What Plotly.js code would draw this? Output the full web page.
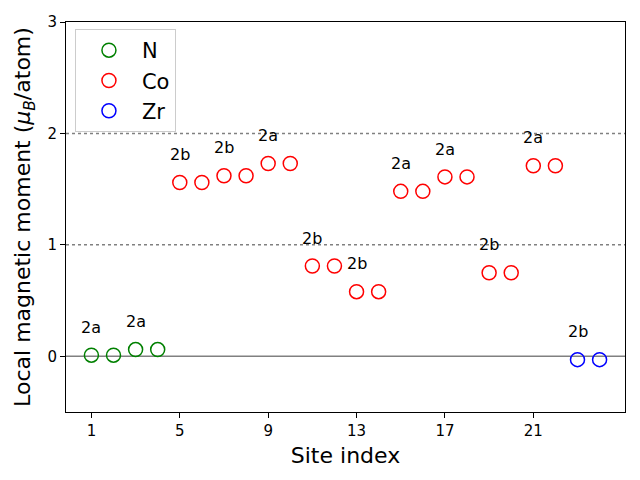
<!DOCTYPE html>
<html>
<head>
<meta charset="utf-8">
<script src="https://cdn.plot.ly/plotly-3.0.1.min.js"></script>
<style>html,body{margin:0;padding:0;background:#fff;}#chart{width:640px;height:480px;}</style>
</head>
<body>
<div id="chart"></div>
<script>
const nSites = [1, 2, 3, 4];
const nValues = [0.01, 0.01, 0.06, 0.06];
const coSites = [5, 6, 7, 8, 9, 10, 11, 12, 13, 14, 15, 16, 17, 18, 19, 20, 21, 22];
const coValues = [1.56, 1.56, 1.62, 1.62, 1.73, 1.73, 0.81, 0.81, 0.58, 0.58, 1.48, 1.48, 1.61, 1.61, 0.75, 0.75, 1.71, 1.71];
const zrSites = [23, 24];
const zrValues = [-0.03, -0.03];
const labelSites = [1, 3, 5, 7, 9, 11, 13, 15, 17, 19, 21, 23];
const labelTexts = ["2a", "2a", "2b", "2b", "2a", "2b", "2b", "2a", "2a", "2b", "2a", "2b"];
const tickVals = [1, 5, 9, 13, 17, 21];

const allSites = nSites.concat(coSites, zrSites);
const allValues = nValues.concat(coValues, zrValues);
const labelOffset = 0.25;

function tr(x, y, name, color) {
  return {
    x: x, y: y, name: name, type: 'scatter', mode: 'markers',
    marker: {symbol: 'circle-open', size: 14, color: color, line: {width: 1.5, color: color}},
    cliponaxis: false
  };
}

const data = [
  tr(nSites, nValues, 'N', 'green'),
  tr(coSites, coValues, 'Co', 'red'),
  tr(zrSites, zrValues, 'Zr', 'blue')
];

const annotations = labelSites.map((s, i) => ({
  x: s, y: allValues[allSites.indexOf(s)] + labelOffset,
  xref: 'x', yref: 'y', text: labelTexts[i], showarrow: false,
  font: {family: 'DejaVu Sans', size: 16, color: 'black'},
  xanchor: 'center', yanchor: 'middle'
}));

const shapes = [
  {type: 'line', xref: 'paper', x0: 0, x1: 1, yref: 'y', y0: 0, y1: 0, line: {color: 'gray', width: 1.5}, layer: 'below'},
  {type: 'line', xref: 'paper', x0: 0, x1: 1, yref: 'y', y0: 1, y1: 1, line: {color: 'gray', width: 1.5, dash: 'dot'}, layer: 'below'},
  {type: 'line', xref: 'paper', x0: 0, x1: 1, yref: 'y', y0: 2, y1: 2, line: {color: 'gray', width: 1.5, dash: 'dot'}, layer: 'below'}
];

const layout = {
  width: 640, height: 480,
  margin: {l: 66, r: 15, t: 22, b: 68},
  paper_bgcolor: 'white', plot_bgcolor: 'white',
  font: {family: 'DejaVu Sans', color: 'black'},
  showlegend: true,
  legend: {
    x: 0.016, y: 0.982, xanchor: 'left', yanchor: 'top',
    bgcolor: 'rgba(255,255,255,0.8)', bordercolor: '#cccccc', borderwidth: 1,
    font: {family: 'DejaVu Sans', size: 21, color: 'black'},
    itemwidth: 56, tracegroupgap: 0
  },
  xaxis: {
    range: [-0.15, 25.15], tickvals: tickVals, ticktext: tickVals.map(String),
    showgrid: false, zeroline: false, showline: true, mirror: true, linecolor: 'black', linewidth: 1,
    ticks: 'outside', ticklen: 5, tickcolor: 'black',
    tickfont: {family: 'DejaVu Sans', size: 15},
    title: {text: 'Site index', font: {family: 'DejaVu Sans', size: 22}, standoff: 8}
  },
  yaxis: {
    range: [-0.5, 3], tickvals: [0, 1, 2, 3],
    showgrid: false, zeroline: false, showline: true, mirror: true, linecolor: 'black', linewidth: 1,
    ticks: 'outside', ticklen: 5, tickcolor: 'black',
    tickfont: {family: 'DejaVu Sans', size: 15},
    title: {text: 'Local magnetic moment (<i>μ</i><sub><i>B</i></sub>/atom)', font: {family: 'DejaVu Sans', size: 22}, standoff: 10}
  },
  annotations: annotations,
  shapes: shapes
};

Plotly.newPlot('chart', data, layout, {displayModeBar: false, staticPlot: true});
</script>
</body>
</html>
